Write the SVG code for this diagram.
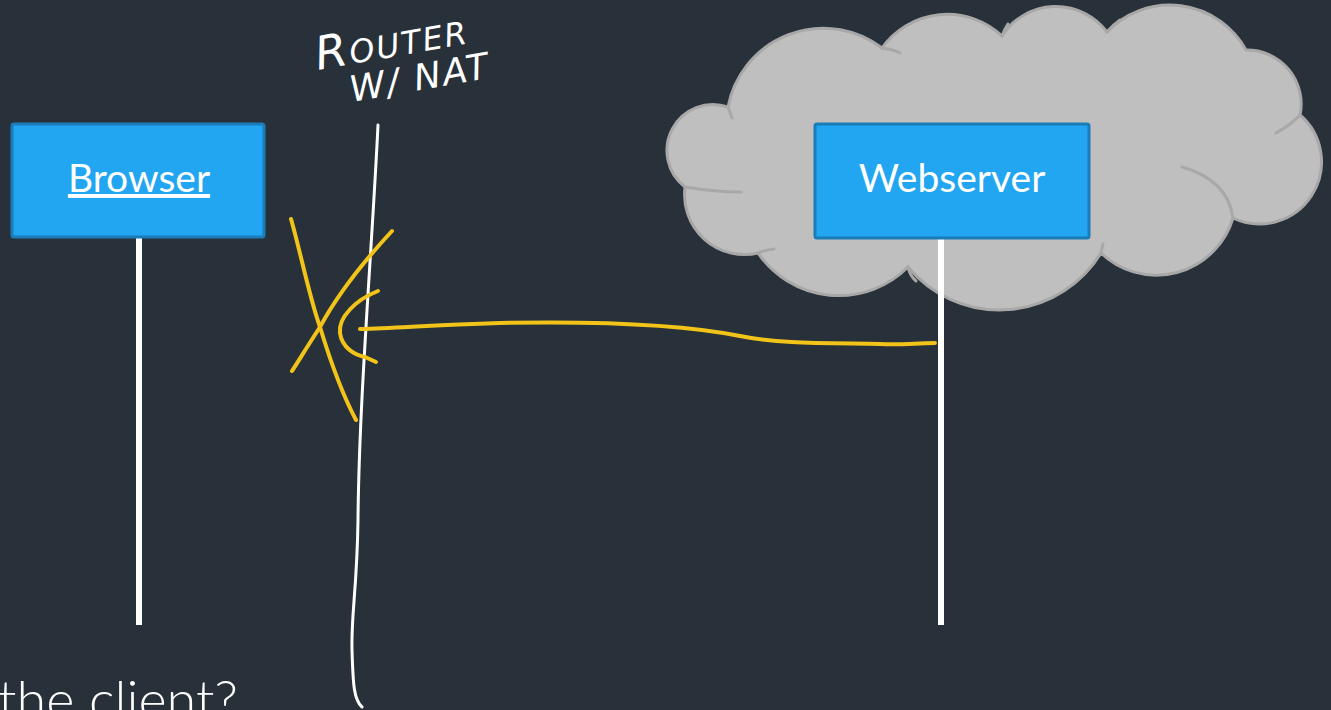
<svg xmlns="http://www.w3.org/2000/svg" width="1331" height="710" viewBox="0 0 1331 710">
<style>
.box{fill:#22a6f2;stroke:#1a7cb8;stroke-width:3}
.lbl{font-family:Lato,"Open Sans",sans-serif;font-size:39px;fill:#ffffff;text-anchor:middle}
.life{stroke:#ffffff;stroke-width:6;fill:none}
.hand{stroke:#ffffff;stroke-width:3;fill:none;stroke-linecap:round;stroke-linejoin:round}
.ink{stroke:#f2c318;stroke-width:4;fill:none;stroke-linecap:round;stroke-linejoin:round}
.cloudline{stroke:#a8a8a8;stroke-width:3;fill:none;stroke-linecap:round}
.script{font-family:"DejaVu Sans",sans-serif;font-style:italic;fill:#ffffff}
</style>
<rect width="1331" height="710" fill="#283039"/>
<g id="cloud">
<path d="M728,107 A97,97 0 0 1 882,48 A80,80 0 0 1 1002,36 A64,64 0 0 1 1107,32 A87,87 0 0 1 1246,50 A54,54 0 0 1 1300,115 A62,62 0 0 1 1233,218 A80,80 0 0 1 1101,253 A119,119 0 0 1 908,267 A98,98 0 0 1 758,253 A60,60 0 0 1 685,187 A46,46 0 0 1 728,107 Z" fill="#bfbfbf" stroke="#a8a8a8" stroke-width="3"/>
<path class="cloudline" d="M728,107 Q730,112 732,118"/>
<path class="cloudline" d="M685,187 Q715,192 741,192"/>
<path class="cloudline" d="M758,253 Q765,250 774,249"/>
<path class="cloudline" d="M908,267 Q910,276 916,281"/>
<path class="cloudline" d="M1101,253 Q1102,248 1103,244"/>
<path class="cloudline" d="M1182,167 Q1228,180 1233,218"/>
<path class="cloudline" d="M1276,133 Q1292,124 1300,115"/>
<path class="cloudline" d="M1107,32 Q1113,25 1120,20"/>
<path class="cloudline" d="M1002,36 Q1004,30 1008,24"/>
<path class="cloudline" d="M882,48 Q895,50 900,53"/>
</g>
<g id="connectors">
<line class="life" x1="139" y1="237" x2="139" y2="625"/>
<line class="life" x1="941" y1="238" x2="941" y2="625"/>
<path class="hand" d="M378,125 C372,250 359,400 358,520 C357,590 351,615 352,650 C353,685 354,700 362,707"/>
<path class="ink" d="M935,343 C915,343 905,345 880,344 C820,343 780,344 740,336 C680,324 600,321 500,323 C430,325 400,328 360,329"/>
<path class="ink" d="M378,291 C355,300 338,318 340,333 C342,348 355,355 365,357 L376,362"/>
<path class="ink" d="M291,219 C300,250 310,300 320,327 C330,360 340,390 356,420"/>
<path class="ink" d="M392,231 C365,260 340,290 320,327 C305,350 298,362 292,371"/>
</g>
<g id="browser">
<rect class="box" x="12" y="124" width="252" height="113" rx="2"/>
<text class="lbl" x="139" y="192" text-decoration="underline">Browser</text>
</g>
<g id="webserver">
<rect class="box" x="815" y="124" width="274" height="114" rx="2"/>
<text class="lbl" x="952" y="192">Webserver</text>
</g>
<g id="router-label">
<text class="script" x="318" y="70" font-size="46" letter-spacing="2" transform="rotate(-10 318 70)">R<tspan font-size="32">OUTER</tspan></text>
<text class="script" x="352" y="102" font-size="36" letter-spacing="2" transform="rotate(-10 352 102)">W/ NAT</text>
</g>
<text x="-2" y="719" font-family="Lato,'Open Sans',sans-serif" font-weight="300" font-size="54" fill="#ffffff">the client?</text>
</svg>
